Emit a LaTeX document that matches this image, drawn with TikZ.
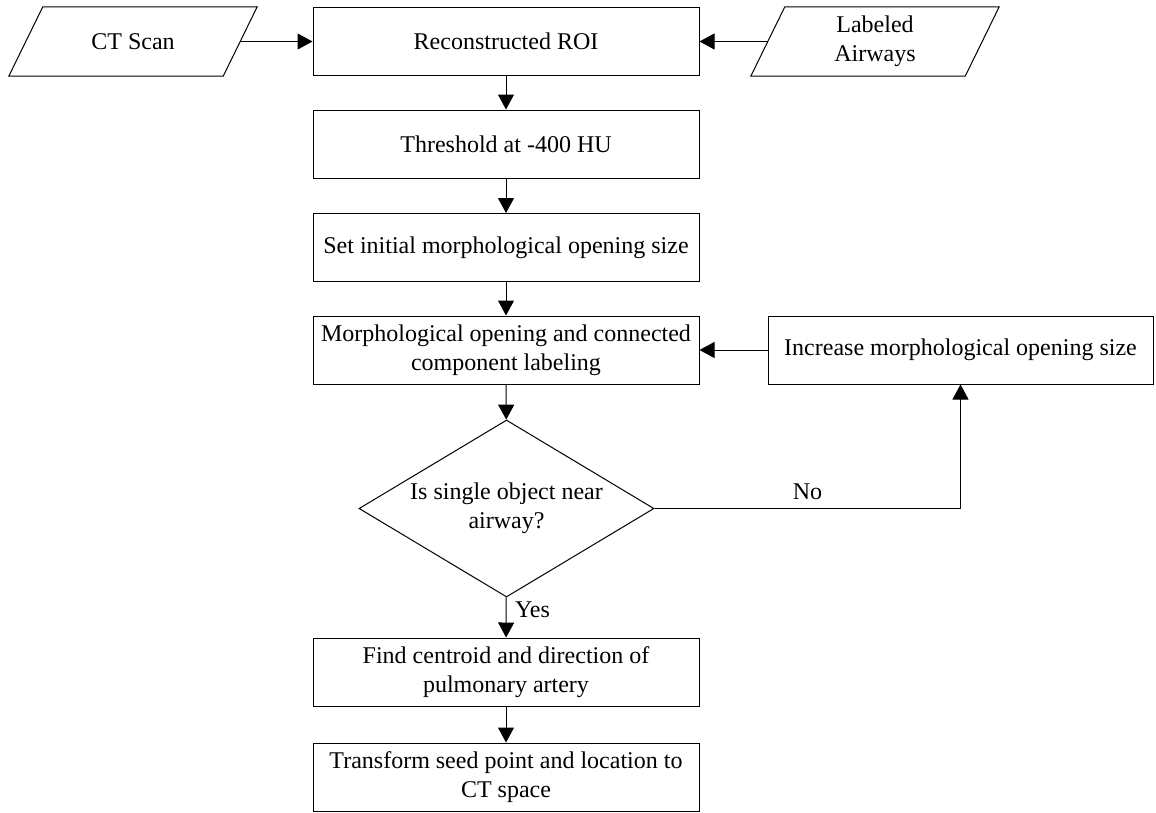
\documentclass[tikz,border=0pt]{standalone}
\usepackage{fontspec}
\setmainfont{Liberation Serif}
\usetikzlibrary{shapes.geometric,arrows.meta}

\begin{document}
\begin{tikzpicture}[x=1pt,y=-1pt,
  every node/.style={font=\fontsize{24}{29}\selectfont,align=center},
  procbox/.style={draw,line width=1pt,minimum width=386pt,minimum height=68pt,inner sep=0pt},
  iobox/.style={minimum width=214pt,minimum height=69pt,inner sep=0pt},
  decbox/.style={draw,line width=1pt,diamond,aspect=1.667,minimum width=295pt,minimum height=177pt,inner sep=0pt},
  flow/.style={line width=1pt,-{Triangle[length=15pt,width=16pt]}}]
\useasboundingbox (0,0) rectangle (1156,812);
\node[iobox] (ctscan) at (133,41.5) {CT Scan};
\node[procbox] (roi) at (506,41.5) {Reconstructed ROI};
\node[iobox] (airways) at (875,41.5) {Labeled\\Airways};
% slanted outlines of the two inputs
\foreach \io in {ctscan,airways}
  \draw[line width=1pt] ([xshift=17pt]\io.north west) -- ([xshift=17pt]\io.north east)
    -- ([xshift=-17pt]\io.south east) -- ([xshift=-17pt]\io.south west) -- cycle;
\node[procbox] (thresh) at (506,144) {Threshold at -400 HU};
\node[procbox] (initsize) at (506,247.5) {Set initial morphological opening size};
\node[procbox] (opening) at (506,350) {Morphological opening and connected\\component labeling};
\node[procbox,minimum width=385pt] (increase) at (960.5,350) {Increase morphological opening size};
\node[decbox] (single) at (506.5,508.5) {Is single object near\\airway?};
\node[procbox] (centroid) at (506,672) {Find centroid and direction of\\pulmonary artery};
\node[procbox] (transform) at (506,777) {Transform seed point and location to\\CT space};
\draw[flow] (ctscan.east) -- (roi.west);
\draw[flow] (airways.west) -- (roi.east);
\draw[flow] (roi) -- (thresh);
\draw[flow] (thresh) -- (initsize);
\draw[flow] (initsize) -- (opening);
\draw[flow] (opening) -- (single);
\draw[flow] (increase) -- (opening);
\draw[flow] (single.east) -| node[pos=0.25,above=5pt] {No} (increase.south);
\draw[flow] (single) -- node[pos=0.3,right=5pt] {Yes} (centroid);
\draw[flow] (centroid) -- (transform);
\end{tikzpicture}
\end{document}
